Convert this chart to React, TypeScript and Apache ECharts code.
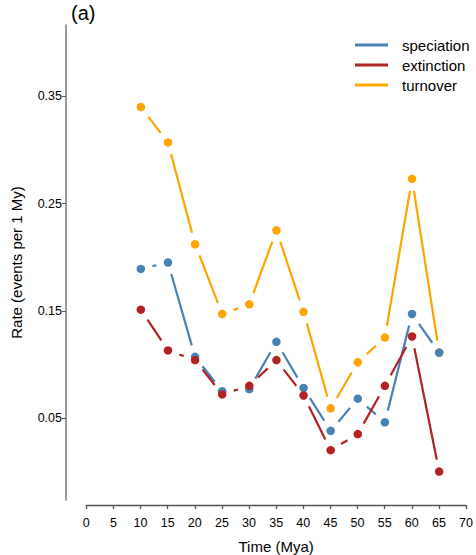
import React, { useEffect, useRef } from "react";
import * as echarts from "echarts";

const times = [10, 15, 20, 25, 30, 35, 40, 45, 50, 55, 60, 65];
const speciation = [0.189, 0.195, 0.107, 0.075, 0.077, 0.121, 0.078, 0.038, 0.068, 0.046, 0.147, 0.111];
const extinction = [0.151, 0.113, 0.104, 0.072, 0.080, 0.104, 0.071, 0.020, 0.035, 0.080, 0.126, 0.000];
const turnover = [0.340, 0.307, 0.212, 0.147, 0.156, 0.225, 0.149, 0.059, 0.102, 0.125, 0.273, 0.111];
const yTicks = [0.05, 0.15, 0.25, 0.35];
const seriesNames = ["speciation", "extinction", "turnover"];
const colors: Record<string, string> = { speciation: "#4682B4", extinction: "#B22222", turnover: "#FFA500" };

const FONT = "Liberation Sans, Arial, Helvetica, sans-serif";
const GAP = 12;

function segments(vals: number[]) {
  const out: number[][] = [];
  for (let i = 0; i < vals.length - 1; i++) {
    out.push([times[i], vals[i], times[i + 1], vals[i + 1]]);
  }
  return out;
}

function lineSeries(name: string, vals: number[]) {
  const color = colors[name];
  return {
    type: "custom",
    name,
    xAxisIndex: 0,
    yAxisIndex: 0,
    itemStyle: { color },
    encode: { x: [0, 2], y: [1, 3] },
    data: segments(vals),
    renderItem: (params: any, api: any) => {
      const p1 = api.coord([api.value(0), api.value(1)]);
      const p2 = api.coord([api.value(2), api.value(3)]);
      const dx = p2[0] - p1[0];
      const dy = p2[1] - p1[1];
      const d = Math.hypot(dx, dy);
      if (d <= 2 * GAP) return { type: "group", children: [] };
      const ux = dx / d;
      const uy = dy / d;
      return {
        type: "line",
        shape: {
          x1: p1[0] + ux * GAP,
          y1: p1[1] + uy * GAP,
          x2: p2[0] - ux * GAP,
          y2: p2[1] - uy * GAP,
        },
        style: { stroke: color, lineWidth: 2.2, lineCap: "butt" },
      };
    },
  };
}

function pointSeries(name: string, vals: number[]) {
  return {
    type: "scatter",
    name: name + " points",
    xAxisIndex: 0,
    yAxisIndex: 0,
    symbol: "circle",
    symbolSize: 8.5,
    itemStyle: { color: colors[name], opacity: 1 },
    data: times.map((t, i) => [t, vals[i]]),
  };
}

export default function App() {
  const ref = useRef<HTMLDivElement>(null);
  useEffect(() => {
    if (!ref.current) return;
    const chart = echarts.init(ref.current, null, { renderer: "svg" });
    const option: any = {
      animation: false,
      backgroundColor: "#ffffff",
      textStyle: { fontFamily: FONT },
      grid: [
        { left: 66, top: 25, width: 404.6, height: 475, containLabel: false, outerBoundsMode: "none" },
        { left: 86.3, top: 25, width: 379.7, height: 480, containLabel: false, outerBoundsMode: "none" },
      ],
      xAxis: [
        {
          type: "value",
          gridIndex: 0,
          min: -3.8,
          max: 70.8,
          show: false,
          splitLine: { show: false },
        },
        {
          type: "value",
          gridIndex: 1,
          min: 0,
          max: 70,
          interval: 5,
          position: "bottom",
          axisLine: { show: true, onZero: false, lineStyle: { color: "#555555", width: 1.3 } },
          axisTick: { show: true, length: 4, inside: false, lineStyle: { color: "#555555", width: 1.3 } },
          axisLabel: { color: "#000000", fontSize: 12.5, margin: 11, fontFamily: FONT, showMinLabel: true, showMaxLabel: true },
          splitLine: { show: false },
          name: "Time (Mya)",
          nameLocation: "middle",
          nameGap: 34,
          nameMoveOverlap: false,
          nameTextStyle: { color: "#000000", fontSize: 15, fontFamily: FONT },
        },
      ],
      yAxis: [
        {
          type: "value",
          gridIndex: 0,
          min: -0.0265,
          max: 0.4165,
          position: "left",
          axisLine: { show: true, onZero: false, lineStyle: { color: "#808080", width: 1.6 } },
          axisTick: { show: true, length: 4, customValues: yTicks, lineStyle: { color: "#555555", width: 1 } },
          axisLabel: {
            show: true,
            customValues: yTicks,
            formatter: (v: number) => v.toFixed(2),
            color: "#000000",
            fontSize: 12.5,
            margin: 4,
            fontFamily: FONT,
          },
          splitLine: { show: false },
          name: "Rate (events per 1 My)",
          nameLocation: "middle",
          nameGap: 42,
          nameRotate: 90,
          nameMoveOverlap: false,
          nameTextStyle: { color: "#000000", fontSize: 15, fontFamily: FONT },
        },
        {
          type: "value",
          gridIndex: 1,
          show: false,
          min: 0,
          max: 1,
          splitLine: { show: false },
        },
      ],
      legend: {
        orient: "vertical",
        left: 355,
        top: 37,
        padding: 0,
        itemWidth: 33,
        itemHeight: 3,
        itemGap: 4,
        icon: "rect",
        selectedMode: false,
        textStyle: { color: "#000000", fontSize: 15, lineHeight: 16, fontFamily: FONT, padding: [0, 0, 0, 9] },
        data: seriesNames.map((n) => ({ name: n, icon: "rect", itemStyle: { color: colors[n] } })),
      },
      graphic: [
        {
          type: "text",
          left: 71,
          top: 3,
          style: { text: "(a)", fontSize: 20, fill: "#000000", fontFamily: FONT },
        },
      ],
      series: [
        lineSeries("turnover", turnover),
        pointSeries("turnover", turnover),
        lineSeries("speciation", speciation),
        pointSeries("speciation", speciation),
        lineSeries("extinction", extinction),
        pointSeries("extinction", extinction),
      ],
    };
    chart.setOption(option);
    return () => chart.dispose();
  }, []);
  return (
    <div
      ref={ref}
      style={{ position: "fixed", left: 0, top: 0, width: 476, height: 555, background: "#fff" }}
    />
  );
}
